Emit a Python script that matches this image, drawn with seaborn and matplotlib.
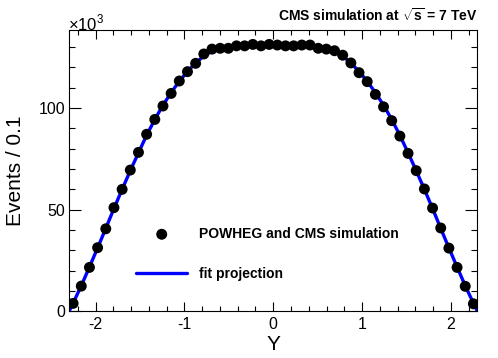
import numpy as np
import seaborn as sns
import matplotlib.pyplot as plt
from matplotlib.ticker import MultipleLocator

# rapidity bins: 50 bins between -2.3 and 2.3
bin_edges = np.linspace(-2.3, 2.3, 51)
bin_centers = 0.5 * (bin_edges[:-1] + bin_edges[1:])

# simulated events per bin (in thousands)
events_k = [3.9, 12.4, 21.6, 31.3, 40.6, 51.0, 60.0, 69.5, 78.2, 87.1,
            94.4, 101.0, 107.2, 113.3, 117.9, 122.0, 126.6, 129.0, 129.4, 129.4,
            130.6, 130.6, 131.3, 130.6, 131.3, 131.0, 130.6, 130.6, 131.0, 131.0,
            129.4, 129.0, 128.2, 126.0, 122.2, 117.4, 113.0, 106.7, 100.6, 93.8,
            86.2, 77.7, 69.2, 60.2, 50.8, 41.0, 31.1, 21.6, 12.3, 3.7]

# fit projection (in thousands), sampled at the range ends and bin centers
fit_x = [-2.3] + list(bin_centers) + [2.3]
fit_k = [0.0, 4.0, 12.6, 21.8, 31.2, 40.8, 50.6, 60.0, 69.2, 78.0, 86.6,
         94.4, 101.4, 107.6, 113.2, 118.0, 122.2, 125.6, 128.0, 129.6, 130.4,
         130.8, 131.0, 131.0, 131.0, 131.0, 131.0, 131.0, 131.0, 131.0, 130.8,
         130.4, 129.6, 128.0, 125.6, 122.2, 118.0, 113.2, 107.6, 101.4, 94.4,
         86.6, 78.0, 69.2, 60.0, 50.6, 40.8, 31.2, 21.8, 12.6, 4.0, 0.0]

sns.set_style("ticks")
plt.rcParams['font.family'] = ['Liberation Sans', 'DejaVu Sans']
plt.rcParams['mathtext.fontset'] = 'custom'
plt.rcParams['mathtext.rm'] = 'Liberation Sans'
plt.rcParams['mathtext.bf'] = 'Liberation Sans:bold'
plt.rcParams['axes.unicode_minus'] = False
for key in ['text.color', 'axes.labelcolor', 'xtick.color', 'ytick.color']:
    plt.rcParams[key] = 'black'

fig = plt.figure(figsize=(4.98, 3.58), dpi=100)
ax = fig.add_axes([0.1386, 0.1304, 0.8202, 0.7858])

sns.lineplot(x=fit_x, y=fit_k, color='#0000ff', lw=2.4, ax=ax,
             label='fit projection', estimator=None, sort=False, zorder=2)
sns.scatterplot(x=bin_centers, y=events_k, color='black', s=62, edgecolor='none',
                ax=ax, label='POWHEG and CMS simulation', zorder=3)

ax.set_xlim(-2.3, 2.3)
ax.set_ylim(0, 138.4)
ax.xaxis.set_major_locator(MultipleLocator(1))
ax.xaxis.set_minor_locator(MultipleLocator(0.2))
ax.yaxis.set_major_locator(MultipleLocator(50))
ax.yaxis.set_minor_locator(MultipleLocator(10))

ax.tick_params(which='both', direction='in', top=True, right=True,
               width=0.8, color='black', labelcolor='black', labelsize=11.5)
ax.tick_params(axis='x', which='major', length=6.5, pad=4)
ax.tick_params(axis='x', which='minor', length=3.5)
ax.tick_params(axis='y', which='major', length=8.5, pad=2.5)
ax.tick_params(axis='y', which='minor', length=4.5)
for sp in ax.spines.values():
    sp.set_color('black')
    sp.set_linewidth(0.8)

ax.set_xlabel('Y', fontsize=15, labelpad=2, color='black')
ax.set_ylabel('Events / 0.1', fontsize=15, labelpad=10, color='black')

handles, labels = ax.get_legend_handles_labels()
leg = ax.legend(handles[::-1], labels[::-1], loc='upper left', bbox_to_anchor=(0.164, 0.30),
                frameon=False, borderpad=0, borderaxespad=0, handlelength=3.7,
                handletextpad=0.85, labelspacing=1.85, prop={'weight': 'bold', 'size': 10})
for t in leg.get_texts():
    t.set_color('black')

fig.text(0.9588, 0.957, r'CMS simulation at $\mathbf{\sqrt{s}}$ = 7 TeV',
         ha='right', va='center', fontsize=10, fontweight='bold', color='black')
fig.text(0.137, 0.935, r'$\times10^{3}$', ha='left', va='center', fontsize=12, color='black')

fig.savefig('out.png', dpi=100)
